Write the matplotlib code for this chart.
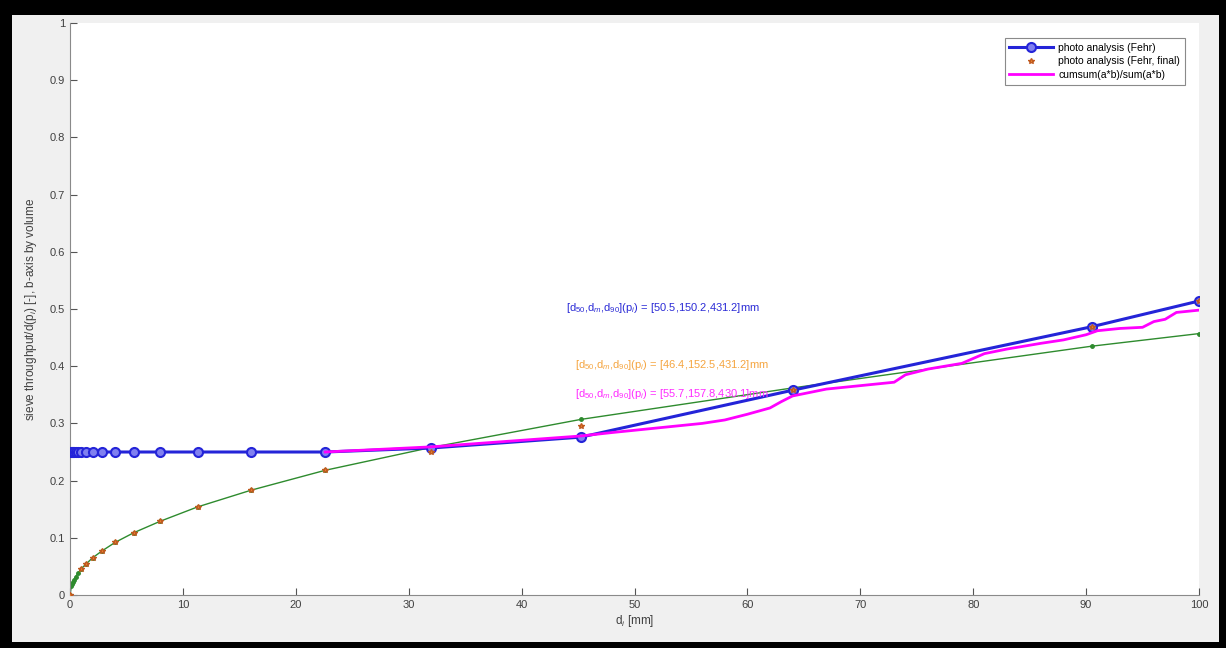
#!/usr/bin/env python3
"""Sieve throughput vs grain size (MATLAB-style figure)."""
import matplotlib
matplotlib.use("Agg")
import matplotlib.pyplot as plt  # noqa: E402
from matplotlib.patches import Rectangle  # noqa: E402

plt.rcParams["font.family"] = ["Liberation Sans", "DejaVu Sans"]
plt.rcParams["mathtext.fontset"] = "custom"
plt.rcParams["mathtext.rm"] = "Liberation Sans"
plt.rcParams["mathtext.it"] = "Liberation Sans:italic"

# sieve sizes (mm)
sieves = [0.125, 0.177, 0.25, 0.354, 0.5, 0.707, 1.0, 1.41, 2.0, 2.83, 4.0,
          5.66, 8.0, 11.3, 16.0, 22.6, 32.0, 45.25, 64.0, 90.5, 100.0]

# photo analysis (Fehr)
fehr = [0.25, 0.25, 0.25, 0.25, 0.25, 0.25, 0.25, 0.25, 0.25, 0.25, 0.25,
        0.25, 0.25, 0.25, 0.25, 0.25, 0.257, 0.276, 0.358, 0.469, 0.514]

# reference curve (green, no legend entry)
ref_x = [0.0] + sieves
ref_y = [0.0, 0.016, 0.019, 0.023, 0.027, 0.032, 0.038, 0.046, 0.054, 0.065,
         0.077, 0.092, 0.109, 0.129, 0.154, 0.183, 0.218, 0.258, 0.307,
         0.362, 0.435, 0.457]

# photo analysis (Fehr, final)
final_x = [0.0, 1.0, 1.41, 2.0, 2.83, 4.0, 5.66, 8.0, 11.3, 16.0, 22.6,
           32.0, 45.25, 64.0, 90.5, 100.0]
final_y = [0.0, 0.046, 0.054, 0.065, 0.077, 0.092, 0.109, 0.129, 0.154,
           0.183, 0.218, 0.25, 0.295, 0.358, 0.469, 0.514]

# cumsum(a*b)/sum(a*b)
cum_x = [22.6, 32.0, 45.25, 48.0, 52.0, 56.0, 58.0, 60.0, 62.0, 63.0, 64.0,
         65.0, 67.0, 70.0, 73.0, 74.0, 76.0, 79.0, 81.0, 83.0, 86.0, 88.0,
         90.0, 91.0, 93.0, 95.0, 96.0, 97.0, 98.0, 100.0]
cum_y = [0.25, 0.259, 0.278, 0.284, 0.292, 0.300, 0.306, 0.316, 0.327,
         0.338, 0.348, 0.352, 0.360, 0.366, 0.372, 0.385, 0.395, 0.405,
         0.422, 0.430, 0.440, 0.446, 0.455, 0.462, 0.466, 0.468, 0.478,
         0.482, 0.494, 0.498]

annotations = [
    ("[d$_{50}$,d$_{m}$,d$_{90}$](p$_i$) = [50.5,150.2,431.2]mm", 43.9, 0.502, "#2b2bd6"),
    ("[d$_{50}$,d$_{m}$,d$_{90}$](p$_i$) = [46.4,152.5,431.2]mm", 44.7, 0.402, "#f5a540"),
    ("[d$_{50}$,d$_{m}$,d$_{90}$](p$_i$) = [55.7,157.8,430.1]mm", 44.7, 0.351, "#ff2bff"),
]

fig = plt.figure(figsize=(12.26, 6.48), dpi=100, facecolor="black")
fig.patches.append(Rectangle((12 / 1226, 6 / 648), 1207 / 1226, 627 / 648,
                             transform=fig.transFigure, facecolor="#f0f0f0",
                             edgecolor="none", zorder=-10))
ax = fig.add_axes([70 / 1226, 53 / 648, 1129 / 1226, 572 / 648])

ax.plot(ref_x, ref_y, color="#2e8b2e", lw=1.0, marker="o", ms=2.5, zorder=2)
ax.plot(sieves, fehr, color="#2424d8", lw=2.2, marker="o", ms=6.5,
        mfc="#8080f0", mec="#2424d8", mew=1.5, label="photo analysis (Fehr)",
        zorder=3)
ax.plot(cum_x, cum_y, color="#ff00ff", lw=2.0,
        label="cumsum(a*b)/sum(a*b)", zorder=4)
ax.plot(final_x, final_y, ls="none", marker="*", ms=4, color="#f08a30",
        mec="#c05a20", label="photo analysis (Fehr, final)", zorder=5)

for txt, tx, ty, col in annotations:
    ax.text(tx, ty, txt, color=col, fontsize=8, va="center", ha="left")

ax.set_xlim(0, 100)
ax.set_ylim(0, 1)
ax.set_xticks(range(0, 101, 10))
ax.set_yticks([i / 10 for i in range(11)])
ax.set_yticklabels(["0"] + [f"{i / 10:g}" for i in range(1, 10)] + ["1"])
ax.tick_params(direction="in", length=5, colors="#555555", labelsize=8,
               labelcolor="#404040")
for s in ("top", "right"):
    ax.spines[s].set_visible(False)
for s in ("left", "bottom"):
    ax.spines[s].set_color("#8a8a8a")

ax.set_xlabel("d$_i$ [mm]", fontsize=8.5, color="#404040", labelpad=2)
ax.set_ylabel("sieve throughput/d(p$_i$) [-], b-axis by volume", fontsize=8.5,
              color="#404040", labelpad=8)

handles, labels = ax.get_legend_handles_labels()
order = [0, 2, 1]
leg = ax.legend([handles[i] for i in order], [labels[i] for i in order],
                loc="upper right", bbox_to_anchor=(0.992, 0.983), fontsize=7.5,
                fancybox=False, framealpha=1, edgecolor="#8a8a8a",
                handlelength=4.2, handletextpad=0.5, borderpad=0.45,
                labelspacing=0.35)
leg.get_frame().set_linewidth(0.8)

fig.savefig("out.png", dpi=100, facecolor=fig.get_facecolor())
